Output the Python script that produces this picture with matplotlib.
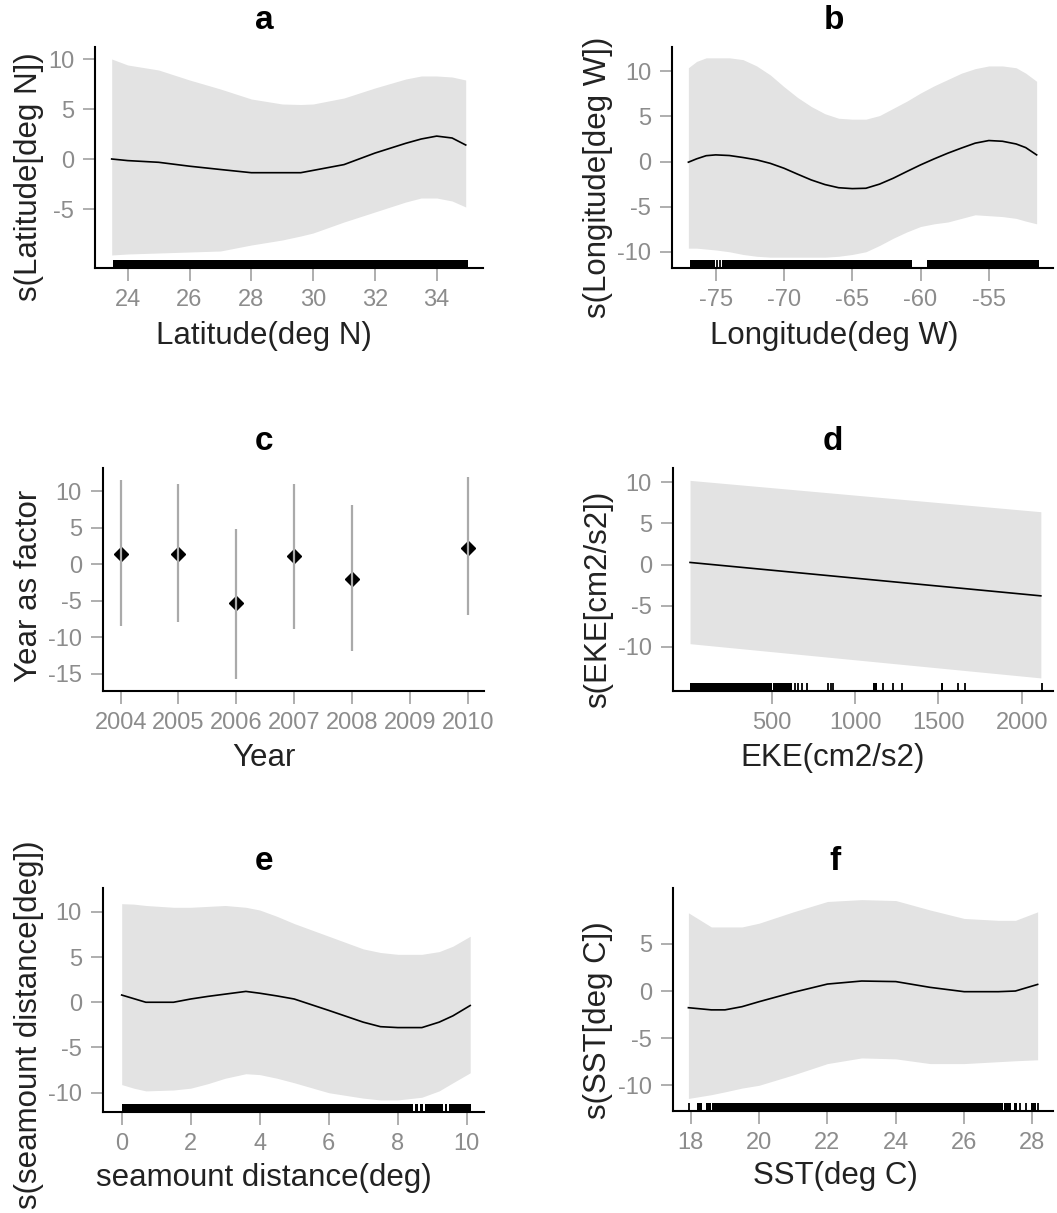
import matplotlib
matplotlib.use('Agg')
import matplotlib.pyplot as plt

plt.rcParams['font.family'] = ['Liberation Sans', 'DejaVu Sans']
plt.rcParams['axes.unicode_minus'] = False

# ---------------- data ----------------
# a: Latitude
a_x = [23.48, 24, 25, 26, 27, 28, 29, 29.6, 30, 31, 32, 33, 33.5, 34, 34.5, 34.94]
a_fit = [0.0, -0.16, -0.33, -0.72, -1.05, -1.37, -1.37, -1.37, -1.14, -0.56, 0.59, 1.57, 2.0, 2.29, 2.1, 1.4]
a_up = [10.0, 9.4, 8.9, 7.9, 7.0, 6.0, 5.5, 5.45, 5.5, 6.1, 7.1, 8.0, 8.3, 8.3, 8.2, 7.9]
a_lo = [-9.6, -9.5, -9.4, -9.3, -9.2, -8.6, -8.1, -7.7, -7.4, -6.3, -5.3, -4.3, -3.9, -3.9, -4.2, -4.8]
a_rug_blocks = [(23.52, 35.02)]
a_rug_ticks = []

# b: Longitude
b_x = [-77.0, -76.4, -75.7, -75, -74, -73, -72, -71, -70, -69, -68, -67, -66, -65, -64, -63, -62,
       -61, -60, -59, -58, -57, -56, -55, -54, -53, -52.3, -51.5]
b_fit = [-0.07, 0.3, 0.65, 0.74, 0.67, 0.45, 0.19, -0.2, -0.74, -1.4, -2.04, -2.55, -2.9, -3.0,
         -2.96, -2.5, -1.85, -1.1, -0.37, 0.3, 0.93, 1.5, 2.04, 2.33, 2.25, 1.95, 1.55, 0.74]
b_up = [10.4, 11.1, 11.5, 11.5, 11.5, 11.3, 10.6, 9.6, 8.3, 7.1, 6.1, 5.3, 4.8, 4.7, 4.7, 5.1,
        5.9, 6.7, 7.6, 8.4, 9.1, 9.8, 10.3, 10.6, 10.6, 10.4, 9.8, 8.9]
b_lo = [-9.6, -9.6, -9.7, -9.8, -10.0, -10.3, -10.5, -10.6, -10.6, -10.6, -10.6, -10.6, -10.5,
        -10.3, -10.0, -9.3, -8.5, -7.8, -7.2, -6.9, -6.7, -6.3, -5.9, -6.0, -6.1, -6.3, -6.6, -6.9]
b_rug_blocks = [(-76.9, -75.05), (-74.55, -60.6), (-59.55, -51.3)]
b_rug_ticks = [-74.93, -74.69]

# c: Year as factor
c_years = [2004, 2005, 2006, 2007, 2008, 2010]
c_est = [1.4, 1.4, -5.3, 1.1, -2.0, 2.3]
c_up = [11.5, 11.0, 4.8, 11.0, 8.2, 11.9]
c_lo = [-8.5, -7.9, -15.7, -8.8, -11.8, -7.0]
c_ticks = [2004, 2005, 2006, 2007, 2008, 2009, 2010]

# d: EKE
d_x = [10, 2115]
d_fit = [0.25, -3.8]
d_up = [10.2, 6.4]
d_lo = [-9.6, -13.75]
d_rug_blocks = [(10, 500), (510, 620), (1110, 1134), (1514, 1530)]
d_rug_ticks = [640, 660, 680, 714, 840, 854, 870, 1170, 1230, 1280, 1620, 1660, 2120]

# e: seamount distance
e_x = [0, 0.35, 0.7, 1.5, 2, 2.5, 3, 3.6, 4, 4.5, 5, 6, 7, 7.5, 8, 8.7, 9.2, 9.6, 10.1]
e_fit = [0.8, 0.4, 0.0, 0.0, 0.36, 0.65, 0.9, 1.2, 1.0, 0.7, 0.36, -0.9, -2.2, -2.7, -2.8, -2.8,
         -2.2, -1.5, -0.36]
e_up = [10.9, 10.85, 10.7, 10.5, 10.5, 10.6, 10.7, 10.5, 10.2, 9.5, 8.7, 7.3, 5.9, 5.5, 5.3, 5.3,
        5.6, 6.2, 7.3]
e_lo = [-9.1, -9.5, -9.8, -9.7, -9.5, -9.0, -8.4, -7.9, -8.0, -8.4, -8.9, -10.0, -10.6, -10.8,
        -10.8, -10.5, -9.8, -8.9, -7.8]
e_rug_blocks = [(0.0, 8.44), (8.5, 8.58), (8.64, 8.72), (8.78, 9.30), (9.36, 9.44), (9.5, 10.12)]
e_rug_ticks = []

# f: SST
f_x = [17.93, 18.6, 19, 19.5, 20, 21, 22, 23, 24, 25, 26, 27, 27.5, 28.15]
f_fit = [-1.77, -2.0, -2.0, -1.66, -1.13, -0.14, 0.74, 1.06, 1.0, 0.39, -0.07, -0.07, 0.0, 0.7]
f_up = [8.3, 6.8, 6.8, 6.8, 7.2, 8.4, 9.5, 9.7, 9.6, 8.6, 7.7, 7.5, 7.5, 8.4]
f_lo = [-11.4, -11.0, -10.7, -10.3, -10.0, -8.9, -7.7, -7.1, -7.2, -7.7, -7.7, -7.5, -7.4, -7.3]
f_rug_blocks = [(18.19, 18.34), (18.44, 18.58), (18.63, 27.13), (27.18, 27.37), (27.47, 27.56), (27.95, 28.10)]
f_rug_ticks = [17.95, 27.64, 27.80, 28.17]

# ---------------- styling ----------------
BAND = '#e3e3e3'
TICKC = '#999999'
LABC = '#8c8c8c'
W, H = 1057, 1213
TICK_FS = 17
LAB_FS = 22.5
TITLE_FS = 24

fig = plt.figure(figsize=(W / 100, H / 100), dpi=100)


def make_axes(l, t, r, b):
    ax = fig.add_axes([l / W, 1 - b / H, (r - l) / W, (b - t) / H])
    ax._px = (l, t, r, b)
    return ax


def decorate(ax, xlim, ylim, xticks, yticks, title, title_px, xlabel, xlab_px,
             ylabel, ylab_px):
    l, t, r, b = ax._px
    ax.set_xlim(*xlim)
    ax.set_ylim(*ylim)
    ax.set_xticks(xticks)
    ax.set_yticks(yticks)
    for s in ('top', 'right'):
        ax.spines[s].set_visible(False)
    for s in ('left', 'bottom'):
        ax.spines[s].set_color('black')
        ax.spines[s].set_linewidth(1.5)
    ax.tick_params(direction='out', length=9, width=1.1, color=TICKC,
                   labelcolor=LABC, labelsize=TICK_FS, pad=6)
    ax.set_title(title, fontsize=TITLE_FS, fontweight='bold',
                 x=(title_px[0] - l) / (r - l), y=(b - title_px[1]) / (b - t))
    ax.set_xlabel(xlabel, fontsize=LAB_FS, color='#222222')
    ax.xaxis.set_label_coords(xlab_px[0] / W, 1 - xlab_px[1] / H,
                              transform=fig.transFigure)
    ax.set_ylabel(ylabel, fontsize=LAB_FS, color='#222222')
    ax.yaxis.set_label_coords(ylab_px[0] / W, 1 - ylab_px[1] / H,
                              transform=fig.transFigure)


def smooth_panel(ax, x, fit, up, lo, blocks, ticks):
    ax.fill_between(x, lo, up, color=BAND, lw=0)
    ax.plot(x, fit, color='black', lw=1.2)
    tr = ax.get_xaxis_transform()
    if blocks:
        ax.broken_barh([(s, e - s) for s, e in blocks], (0, 0.035),
                       transform=tr, facecolor='black', edgecolor='none')
    if ticks:
        ax.vlines(ticks, 0, 0.035, transform=tr, color='black', lw=1.3)


# a
ax = make_axes(95, 47, 483, 268)
smooth_panel(ax, a_x, a_fit, a_up, a_lo, a_rug_blocks, a_rug_ticks)
decorate(ax, (22.94, 35.5), (-10.9, 11.2), [24, 26, 28, 30, 32, 34], [-5, 0, 5, 10],
         'a', (264, 37), 'Latitude(deg N)', (264, 321),
         's(Latitude[deg N])', (44, 177))

# b
ax = make_axes(672, 47, 1053, 268)
smooth_panel(ax, b_x, b_fit, b_up, b_lo, b_rug_blocks, b_rug_ticks)
decorate(ax, (-78.2, -50.3), (-11.8, 12.7), [-75, -70, -65, -60, -55], [-10, -5, 0, 5, 10],
         'b', (834, 37), 'Longitude(deg W)', (834, 321),
         's(Longitude[deg W])', (613, 177))

# c
ax = make_axes(102.7, 468, 484, 690.7)
ax.plot(c_years, c_est, 'D', color='black', markersize=7, zorder=2)
ax.vlines(c_years, c_lo, c_up, color='#aaaaaa', lw=1.6, zorder=3)
decorate(ax, (2003.69, 2010.28), (-17.3, 13.2), c_ticks, [-15, -10, -5, 0, 5, 10],
         'c', (264, 458), 'Year', (264, 743),
         'Year as factor', (44, 586))

# d
ax = make_axes(672.7, 468, 1053, 690.7)
smooth_panel(ax, d_x, d_fit, d_up, d_lo, d_rug_blocks, d_rug_ticks)
decorate(ax, (-94, 2188), (-15.3, 11.7), [500, 1000, 1500, 2000], [-10, -5, 0, 5, 10],
         'd', (833, 458), 'EKE(cm2/s2)', (833, 743),
         's(EKE[cm2/s2])', (613, 599))

# e
ax = make_axes(102.7, 888.3, 484, 1111.7)
smooth_panel(ax, e_x, e_fit, e_up, e_lo, e_rug_blocks, e_rug_ticks)
decorate(ax, (-0.55, 10.5), (-12.1, 12.6), [0, 2, 4, 6, 8, 10], [-10, -5, 0, 5, 10],
         'e', (264, 878), 'seamount distance(deg)', (264, 1163),
         's(seamount distance[deg])', (44, 1025))

# f
ax = make_axes(672.7, 888.3, 1053, 1110.7)
smooth_panel(ax, f_x, f_fit, f_up, f_lo, f_rug_blocks, f_rug_ticks)
decorate(ax, (17.47, 28.6), (-12.7, 10.9), [18, 20, 22, 24, 26, 28], [-10, -5, 0, 5],
         'f', (835, 878), 'SST(deg C)', (835, 1161),
         's(SST[deg C])', (613, 1020))

fig.savefig('out.png', dpi=100, facecolor='white')
